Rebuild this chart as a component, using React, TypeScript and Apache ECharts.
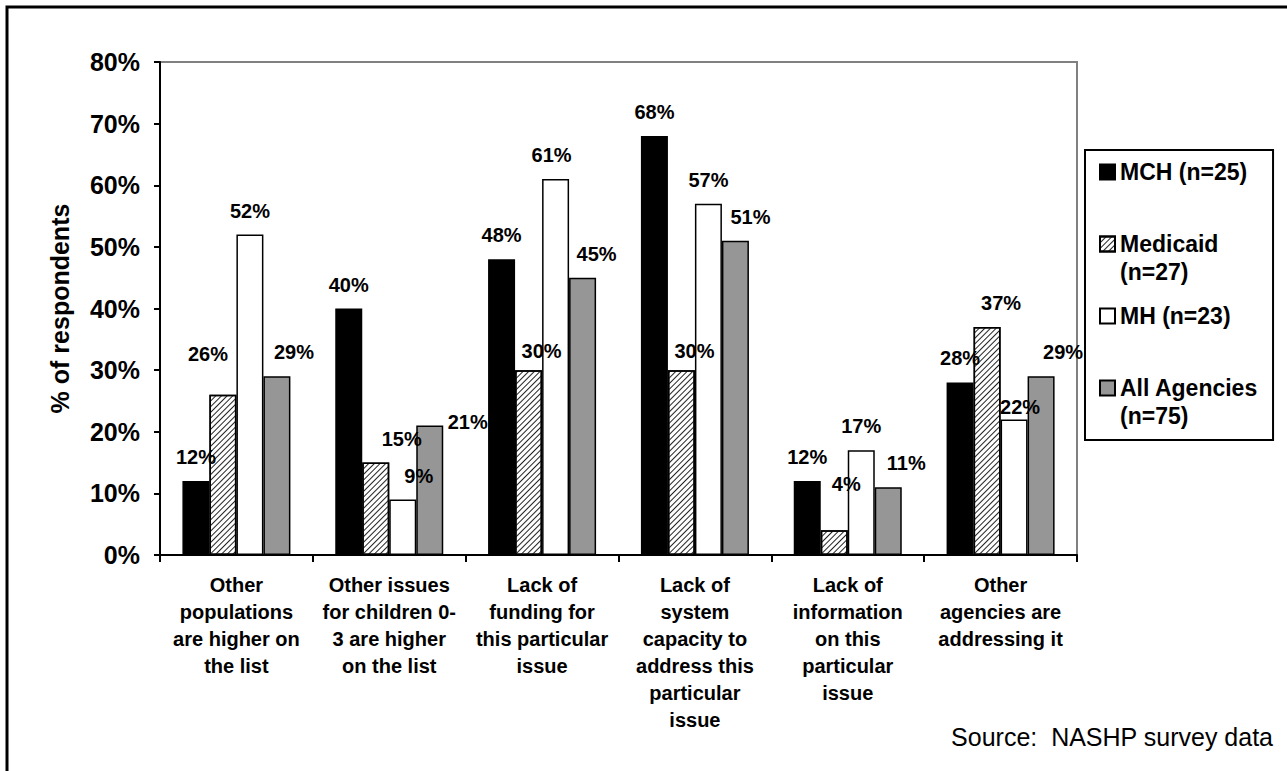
import React, { useEffect, useRef } from 'react';
import * as echarts from 'echarts';

const categories = [
  'Other\npopulations\nare higher on\nthe list',
  'Other issues\nfor children 0-\n3 are higher\non the list',
  'Lack of\nfunding for\nthis particular\nissue',
  'Lack of\nsystem\ncapacity to\naddress this\nparticular\nissue',
  'Lack of\ninformation\non this\nparticular\nissue',
  'Other\nagencies are\naddressing it',
];
const mchValues = [12, 40, 48, 68, 12, 28];
const medicaidValues = [26, 15, 30, 30, 4, 37];
const mhValues = [52, 9, 61, 57, 17, 22];
const allAgenciesValues = [29, 21, 45, 51, 11, 29];
const seriesNames = ['MCH (n=25)', 'Medicaid\n(n=27)', 'MH (n=23)', 'All Agencies\n(n=75)'];
const yMin = 0;
const yMax = 80;
const yStep = 10;
const sourceNote = 'Source:  NASHP survey data';
const yAxisTitle = '% of respondents';

const FONT = '"Liberation Sans", Arial, sans-serif';

// manual label nudges (series index - category index), like the hand-placed labels of the original
const LABEL_NUDGE: Record<string, [number, number]> = {
  '1-0': [-15, -17],
  '3-0': [17, 0],
  '1-1': [26, 0],
  '2-1': [16, 0],
  '3-1': [38, 20],
  '1-2': [13, 5],
  '2-2': [-4, 0],
  '3-2': [14, 0],
  '1-3': [13, 5],
  '3-3': [15, 0],
  '1-4': [12, -22],
  '3-4': [18, 0],
  '1-5': [14, 0],
  '2-5': [6, 12],
  '3-5': [22, 0],
};

export default function App() {
  const ref = useRef<HTMLDivElement>(null);
  useEffect(() => {
    if (!ref.current) return;
    const chart = echarts.init(ref.current, null, { renderer: 'svg' });
    const labelBase = {
      show: true,
      position: 'top',
      distance: 14,
      formatter: '{c}%',
      fontFamily: FONT,
      fontSize: 20,
      fontWeight: 'bold',
      color: '#000',
    };
    const border = { borderColor: '#000', borderWidth: 1.5 };
    const styles = [
      { color: '#000000', ...border },
      {
        color: '#ffffff',
        ...border,
        decal: {
          symbol: 'rect',
          symbolSize: 1,
          dashArrayX: [1, 0],
          dashArrayY: [1, 3],
          rotation: -Math.PI / 4,
          color: '#222222',
        },
      },
      { color: '#ffffff', ...border },
      { color: '#969696', ...border },
    ];
    const values = [mchValues, medicaidValues, mhValues, allAgenciesValues];
    const series = seriesNames.map((name, si) => ({
      name,
      type: 'bar',
      data: values[si].map((v, ci) => {
        const nudge = LABEL_NUDGE[`${si}-${ci}`];
        return nudge ? { value: v, label: { offset: nudge } } : v;
      }),
      barWidth: 27,
      barGap: '0%',
      itemStyle: styles[si],
      label: labelBase,
    }));
    chart.setOption({
      animation: false,
      backgroundColor: '#fff',
      grid: {
        left: 160,
        top: 62,
        width: 917,
        height: 493,
        show: true,
        borderColor: '#808080',
        borderWidth: 2,
        containLabel: false,
      },
      legend: {
        orient: 'vertical',
        left: 1085,
        top: 150,
        padding: [8, 15, 10, 14],
        itemGap: 16,
        itemWidth: 15,
        itemHeight: 15,
        icon: 'rect',
        borderColor: '#000',
        borderWidth: 2,
        selectedMode: false,
        formatter: (name: string) => (name.includes('\n') ? '\n' + name : name),
        textStyle: {
          fontFamily: FONT,
          fontSize: 23,
          fontWeight: 'bold',
          color: '#000',
          lineHeight: 28,
        },
        data: seriesNames,
      },
      xAxis: {
        type: 'category',
        data: categories,
        axisLine: { show: true, lineStyle: { color: '#000', width: 2 } },
        axisTick: { show: true, length: 7, lineStyle: { color: '#000', width: 2 } },
        axisLabel: {
          interval: 0,
          margin: 16,
          fontFamily: FONT,
          fontSize: 20,
          fontWeight: 'bold',
          color: '#000',
          lineHeight: 27,
          align: 'center',
        },
      },
      yAxis: {
        type: 'value',
        min: yMin,
        max: yMax,
        interval: yStep,
        name: yAxisTitle,
        nameLocation: 'middle',
        nameGap: 88,
        nameRotate: 90,
        nameTextStyle: {
          fontFamily: FONT,
          fontSize: 25,
          fontWeight: 'bold',
          color: '#000',
        },
        axisLine: { show: true, lineStyle: { color: '#000', width: 2 } },
        axisTick: { show: true, length: 6, lineStyle: { color: '#000', width: 2 } },
        splitLine: { show: false },
        axisLabel: {
          margin: 20,
          formatter: '{value}%',
          fontFamily: FONT,
          fontSize: 25,
          fontWeight: 'bold',
          color: '#000',
        },
      },
      series,
      graphic: [
        {
          type: 'rect',
          shape: { x: 7, y: 7, width: 1400, height: 1000 },
          style: { fill: 'none', stroke: '#000', lineWidth: 3 },
          silent: true,
        },
        {
          type: 'text',
          x: 1273,
          y: 737,
          style: {
            text: sourceNote,
            fontFamily: FONT,
            fontSize: 25,
            fill: '#000',
            textAlign: 'right',
            textVerticalAlign: 'middle',
          },
        },
      ],
    });
    return () => chart.dispose();
  }, []);
  return (
    <div
      ref={ref}
      style={{ position: 'absolute', left: 0, top: 0, width: 1287, height: 771 }}
    />
  );
}
